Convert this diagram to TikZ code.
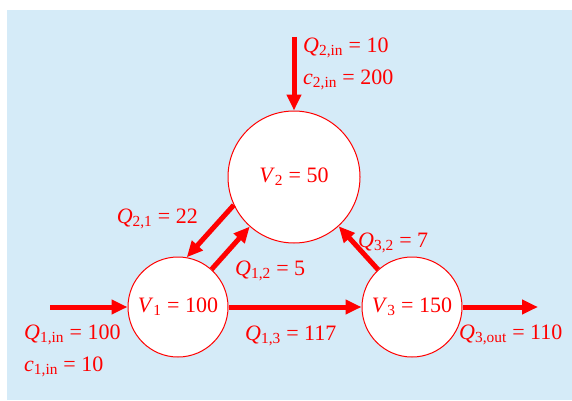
\documentclass[tikz,border=0pt]{standalone}
\usepackage{fontspec}
\setmainfont{Liberation Serif}
\usetikzlibrary{arrows.meta}
\definecolor{bg}{RGB}{213,235,248}
\definecolor{rd}{RGB}{255,0,0}
\newcommand{\vq}[2]{\textit{#1}\textsubscript{#2}}
\begin{document}
\begin{tikzpicture}[x=1pt,y=1pt,
  tank/.style={circle,draw=rd,line width=1pt,fill=white,inner sep=0pt,text=rd,font=\fontsize{22}{26}\selectfont},
  flow/.style={draw=rd,line width=5pt,-{Triangle[length=16pt,width=14pt]}},
  lab/.style={text=rd,inner sep=0pt,font=\fontsize{22}{26}\selectfont}]
\useasboundingbox (0,0) rectangle (572,400);
\fill[bg] (7,0) rectangle (572,390);
\node[tank,minimum size=132pt] (V2) at (294,223) {\textit{V}\textsubscript{2} = 50};
\node[tank,minimum size=100pt] (V1) at (178,93) {\textit{V}\textsubscript{1} = 100};
\node[tank,minimum size=100pt] (V3) at (412,93) {\textit{V}\textsubscript{3} = 150};
\coordinate (in1) at (50,93);
\coordinate (out3) at (538,93);
\coordinate (in2) at (294,363);
\draw[flow] (in1) -- (V1);
\draw[flow] (V1) -- (V3);
\draw[flow] (V3) -- (out3);
\draw[flow] (in2) -- (V2);
\draw[flow] (V1) -- (V2);
\draw[flow] (V3) -- (V2);
\draw[flow] (V2.205) -- (V1.80);
\node[lab,anchor=base west] (l2in) at (303,348) {\vq{Q}{2,in} = 10};
\node[lab,anchor=base west] (c2in) at (303,316) {\vq{c}{2,in} = 200};
\node[lab,anchor=base east] (l21) at (198,177) {\vq{Q}{2,1} = 22};
\node[lab,anchor=base west] (l12) at (235,125) {\vq{Q}{1,2} = 5};
\node[lab,anchor=base west] (l32) at (358,153) {\vq{Q}{3,2} = 7};
\node[lab,anchor=base west] (l1in) at (24,61) {\vq{Q}{1,in} = 100};
\node[lab,anchor=base west] (c1in) at (24,29) {\vq{c}{1,in} = 10};
\node[lab,anchor=base west] (l13) at (245,60) {\vq{Q}{1,3} = 117};
\node[lab,anchor=base west] (l3out) at (459,61) {\vq{Q}{3,out} = 110};
\end{tikzpicture}
\end{document}
